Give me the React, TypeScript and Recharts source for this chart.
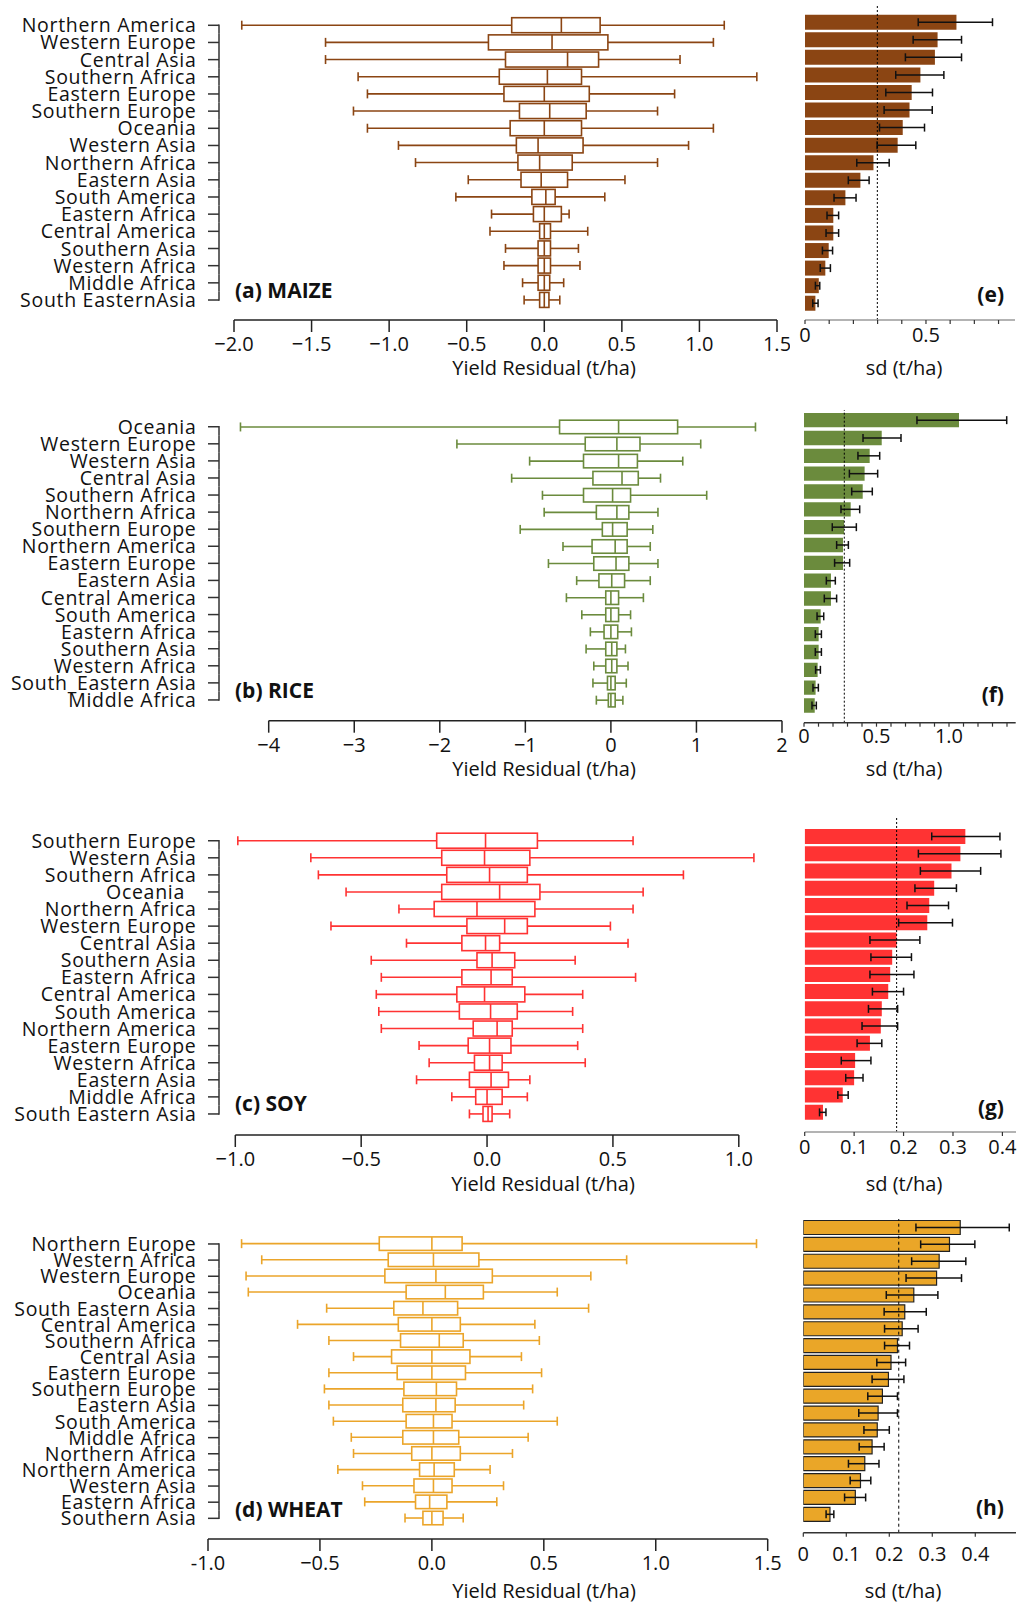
import React from "react";
import { ComposedChart, Bar, XAxis, YAxis, ErrorBar, ReferenceLine } from "recharts";

const FONT = "'Open Sans', 'Noto Sans', 'DejaVu Sans', sans-serif";

// ---------- (a)/(e) maize ----------
const maizeRegions = [
  "Northern America", "Western Europe", "Central Asia", "Southern Africa", "Eastern Europe",
  "Southern Europe", "Oceania", "Western Asia", "Northern Africa", "Eastern Asia",
  "South America", "Eastern Africa", "Central America", "Southern Asia", "Western Africa",
  "Middle Africa", "South EasternAsia"
];
const maizeLow = [-1.95, -1.41, -1.41, -1.2, -1.14, -1.23, -1.14, -0.94, -0.83, -0.49, -0.57, -0.34, -0.35, -0.25, -0.26, -0.14, -0.13];
const maizeQ1 = [-0.21, -0.36, -0.25, -0.29, -0.26, -0.16, -0.22, -0.18, -0.17, -0.15, -0.08, -0.07, -0.03, -0.04, -0.04, -0.04, -0.03];
const maizeMedian = [0.11, 0.05, 0.15, 0.02, 0.0, 0.035, 0.0, -0.04, -0.03, -0.02, 0.01, 0.0, 0.0, 0.0, 0.0, 0.0, 0.0];
const maizeQ3 = [0.36, 0.41, 0.35, 0.24, 0.29, 0.27, 0.24, 0.25, 0.18, 0.15, 0.07, 0.11, 0.04, 0.04, 0.04, 0.035, 0.03];
const maizeHigh = [1.16, 1.09, 0.875, 1.37, 0.84, 0.73, 1.09, 0.93, 0.73, 0.52, 0.39, 0.16, 0.28, 0.22, 0.23, 0.125, 0.1];
const maizeSd = [0.626, 0.548, 0.537, 0.477, 0.441, 0.432, 0.404, 0.383, 0.283, 0.229, 0.167, 0.117, 0.117, 0.098, 0.084, 0.057, 0.043];
const maizeSdLow = [0.468, 0.447, 0.415, 0.375, 0.334, 0.327, 0.308, 0.298, 0.214, 0.179, 0.12, 0.091, 0.087, 0.072, 0.063, 0.043, 0.032];
const maizeSdHigh = [0.775, 0.647, 0.647, 0.574, 0.527, 0.526, 0.494, 0.458, 0.348, 0.265, 0.211, 0.139, 0.139, 0.114, 0.105, 0.061, 0.054];
const maizeSdMean = 0.299;
const maizeTicks = [-2, -1.5, -1, -0.5, 0, 0.5, 1, 1.5];
const maizeTickLabels = ["\u22122.0", "\u22121.5", "\u22121.0", "\u22120.5", "0.0", "0.5", "1.0", "1.5"];
const maizeSdTicks = [0, 0.1, 0.2, 0.3, 0.4, 0.5, 0.6, 0.7, 0.8];
const maizeSdTickLabels = ["0", "", "", "", "", "0.5", "", "", ""];

// ---------- (b)/(f) rice ----------
const riceRegions = [
  "Oceania", "Western Europe", "Western Asia", "Central Asia", "Southern Africa",
  "Northern Africa", "Southern Europe", "Northern America", "Eastern Europe", "Eastern Asia",
  "Central America", "South America", "Eastern Africa", "Southern Asia", "Western Africa",
  "South_Eastern Asia", "Middle Africa"
];
const riceLow = [-4.33, -1.8, -0.95, -1.16, -0.8, -0.78, -1.06, -0.56, -0.73, -0.4, -0.52, -0.34, -0.24, -0.29, -0.2, -0.21, -0.17];
const riceQ1 = [-0.6, -0.3, -0.32, -0.21, -0.32, -0.17, -0.1, -0.22, -0.2, -0.14, -0.06, -0.06, -0.08, -0.06, -0.06, -0.04, -0.03];
const riceMedian = [0.09, 0.07, 0.09, 0.13, 0.02, 0.07, 0.02, 0.05, 0.06, 0.01, 0.0, 0.0, 0.0, 0.01, 0.01, 0.0, 0.0];
const riceQ3 = [0.78, 0.34, 0.31, 0.32, 0.23, 0.21, 0.19, 0.19, 0.21, 0.16, 0.09, 0.09, 0.08, 0.07, 0.07, 0.05, 0.05];
const riceHigh = [1.69, 1.05, 0.84, 0.58, 1.12, 0.55, 0.49, 0.46, 0.55, 0.46, 0.38, 0.23, 0.24, 0.17, 0.2, 0.18, 0.14];
const riceSd = [1.069, 0.536, 0.453, 0.418, 0.405, 0.322, 0.276, 0.269, 0.269, 0.186, 0.186, 0.115, 0.101, 0.101, 0.094, 0.08, 0.074];
const riceSdLow = [0.779, 0.407, 0.372, 0.313, 0.329, 0.255, 0.195, 0.225, 0.211, 0.154, 0.14, 0.09, 0.078, 0.078, 0.08, 0.062, 0.055];
const riceSdHigh = [1.398, 0.669, 0.522, 0.508, 0.471, 0.384, 0.361, 0.306, 0.315, 0.216, 0.225, 0.136, 0.12, 0.12, 0.113, 0.099, 0.085];
const riceSdMean = 0.278;
const riceTicks = [-4, -3, -2, -1, 0, 1, 2];
const riceTickLabels = ["\u22124", "\u22123", "\u22122", "\u22121", "0", "1", "2"];
const riceSdTicks = [0, 0.1, 0.2, 0.3, 0.4, 0.5, 0.6, 0.7, 0.8, 0.9, 1.0, 1.1, 1.2, 1.3, 1.4];
const riceSdTickLabels = ["0", "", "", "", "", "0.5", "", "", "", "", "1.0", "", "", "", ""];

// ---------- (c)/(g) soy ----------
const soyRegions = [
  "Southern Europe", "Western Asia", "Southern Africa", "Oceania\u00a0\u00a0", "Northern Africa",
  "Western Europe", "Central Asia", "Southern Asia", "Eastern Africa", "Central America",
  "South America", "Northern America", "Eastern Europe", "Western Africa", "Eastern Asia",
  "Middle Africa", "South Eastern Asia"
];
const soyLow = [-0.99, -0.7, -0.67, -0.56, -0.35, -0.62, -0.32, -0.46, -0.42, -0.44, -0.43, -0.42, -0.27, -0.23, -0.28, -0.14, -0.07];
const soyQ1 = [-0.2, -0.18, -0.16, -0.18, -0.21, -0.08, -0.1, -0.04, -0.1, -0.12, -0.11, -0.055, -0.075, -0.05, -0.07, -0.045, -0.016];
const soyMedian = [-0.006, -0.01, 0.01, 0.05, -0.04, 0.07, -0.006, 0.02, 0.016, -0.01, 0.014, 0.04, 0.01, 0.01, 0.016, 0.0, 0.004];
const soyQ3 = [0.2, 0.17, 0.16, 0.21, 0.19, 0.16, 0.05, 0.11, 0.1, 0.15, 0.12, 0.1, 0.095, 0.06, 0.085, 0.06, 0.02];
const soyHigh = [0.58, 1.06, 0.78, 0.62, 0.58, 0.49, 0.56, 0.35, 0.59, 0.38, 0.34, 0.38, 0.36, 0.39, 0.17, 0.16, 0.09];
const soySd = [0.325, 0.315, 0.297, 0.262, 0.252, 0.248, 0.186, 0.177, 0.173, 0.169, 0.156, 0.154, 0.132, 0.102, 0.1, 0.077, 0.037];
const soySdLow = [0.257, 0.23, 0.234, 0.223, 0.207, 0.19, 0.132, 0.134, 0.132, 0.137, 0.129, 0.116, 0.106, 0.074, 0.083, 0.067, 0.03];
const soySdHigh = [0.395, 0.397, 0.356, 0.307, 0.291, 0.299, 0.233, 0.216, 0.221, 0.2, 0.188, 0.188, 0.156, 0.134, 0.118, 0.088, 0.043];
const soySdMean = 0.186;
const soyTicks = [-1, -0.5, 0, 0.5, 1];
const soyTickLabels = ["\u22121.0", "\u22120.5", "0.0", "0.5", "1.0"];
const soySdTicks = [0, 0.1, 0.2, 0.3, 0.4];
const soySdTickLabels = ["0", "0.1", "0.2", "0.3", "0.4"];

// ---------- (d)/(h) wheat ----------
const wheatRegions = [
  "Northern Europe", "Western Africa", "Western Europe", "Oceania", "South Eastern Asia",
  "Central America", "Southern Africa", "Central Asia", "Eastern Europe", "Southern Europe",
  "Eastern Asia", "South America", "Middle Africa", "Northern Africa", "Northern America",
  "Western Asia", "Eastern Africa", "Southern Asia"
];
const wheatLow = [-0.85, -0.76, -0.83, -0.82, -0.47, -0.6, -0.46, -0.35, -0.46, -0.48, -0.46, -0.44, -0.36, -0.35, -0.42, -0.31, -0.3, -0.12];
const wheatQ1 = [-0.235, -0.195, -0.21, -0.115, -0.17, -0.15, -0.14, -0.18, -0.155, -0.125, -0.13, -0.115, -0.13, -0.09, -0.055, -0.08, -0.073, -0.04];
const wheatMedian = [0.0, 0.007, 0.018, 0.06, -0.04, 0.0, 0.033, 0.0, 0.0, 0.02, 0.018, 0.007, 0.007, 0.0, 0.01, 0.007, -0.01, 0.0];
const wheatQ3 = [0.135, 0.21, 0.27, 0.23, 0.115, 0.127, 0.14, 0.17, 0.15, 0.11, 0.104, 0.09, 0.12, 0.127, 0.1, 0.09, 0.067, 0.05];
const wheatHigh = [1.45, 0.87, 0.71, 0.56, 0.7, 0.46, 0.48, 0.4, 0.49, 0.45, 0.41, 0.56, 0.43, 0.36, 0.26, 0.32, 0.29, 0.14];
const wheatSd = [0.365, 0.34, 0.316, 0.31, 0.257, 0.236, 0.23, 0.219, 0.204, 0.198, 0.184, 0.174, 0.172, 0.16, 0.143, 0.133, 0.121, 0.062];
const wheatSdLow = [0.262, 0.273, 0.252, 0.239, 0.193, 0.188, 0.189, 0.189, 0.171, 0.16, 0.15, 0.129, 0.141, 0.13, 0.105, 0.109, 0.096, 0.053];
const wheatSdHigh = [0.479, 0.399, 0.378, 0.368, 0.313, 0.286, 0.267, 0.247, 0.238, 0.234, 0.219, 0.219, 0.2, 0.188, 0.176, 0.157, 0.145, 0.071];
const wheatSdMean = 0.222;
const wheatTicks = [-1, -0.5, 0, 0.5, 1, 1.5];
const wheatTickLabels = ["-1.0", "\u22120.5", "0.0", "0.5", "1.0", "1.5"];
const wheatSdTicks = [0, 0.1, 0.2, 0.3, 0.4];
const wheatSdTickLabels = ["0", "0.1", "0.2", "0.3", "0.4"];

const boxRows = (regions, low, q1, median, q3, high) =>
  regions.map((region, i) => ({ region, low: low[i], q1: q1[i], median: median[i], q3: q3[i], high: high[i] }));

const sdRows = (regions, sd, lo, hi) =>
  regions.map((region, i) => ({ region, sd: sd[i], sdLow: lo[i], sdHigh: hi[i] }));

// the floating bar is the box [q1, q3]; whiskers and median use the same linear scale
const BoxShape = (props: any) => {
  const { x, y, width, height, payload, color } = props;
  if (!payload) return null;
  const { low, q1, median, q3, high } = payload;
  const px = (v: number) => x + ((v - q1) / (q3 - q1)) * width;
  const cy = y + height / 2;
  const cap = 4.5;
  return (
    <g stroke={color} strokeWidth={1.6} fill="none">
      <line x1={px(low)} x2={px(q1)} y1={cy} y2={cy} />
      <line x1={px(q3)} x2={px(high)} y1={cy} y2={cy} />
      <line x1={px(low)} x2={px(low)} y1={cy - cap} y2={cy + cap} />
      <line x1={px(high)} x2={px(high)} y1={cy - cap} y2={cy + cap} />
      <rect x={x} y={y} width={width} height={height} fill="#fff" />
      <line x1={px(median)} x2={px(median)} y1={y} y2={y + height} />
    </g>
  );
};

// region label + bracket style axis
const RegionTick = (props: any) => {
  const { y, payload, index, count, step } = props;
  const bx = 219;
  const top = index === 0 ? y - 0.75 : y - step / 2;
  const bottom = index === count - 1 ? y + 0.75 : y + step / 2;
  return (
    <g>
      <text
        x={196.5}
        y={y}
        dy="0.36em"
        textAnchor="end"
        fontSize={19.5}
        letterSpacing={0.7}
        fontFamily={FONT}
        fill="#111"
      >
        {payload.value}
      </text>
      <line x1={208} x2={bx} y1={y} y2={y} stroke="#333" strokeWidth={1.5} />
      <line x1={bx} x2={bx} y1={top} y2={bottom} stroke="#333" strokeWidth={1.5} />
    </g>
  );
};

const BoxPanel = ({ rows, color, ticks, tickLabels, domain, layout }: any) => {
  const n = rows.length;
  const step = (layout.bandsBottom - layout.bandsTop) / n;
  const height = layout.axisY - layout.chartTop + 40;
  return (
    <div style={{ position: "absolute", left: 0, top: layout.chartTop }}>
      <ComposedChart
        layout="vertical"
        width={790}
        height={height}
        data={rows}
        margin={{ top: layout.bandsTop - layout.chartTop, right: 790 - layout.plotRight, bottom: 0, left: 0 }}
      >
        <XAxis
          type="number"
          domain={domain}
          ticks={ticks}
          interval={0}
          height={40}
          tickSize={12}
          tickMargin={5}
          tickFormatter={(v) => tickLabels[ticks.indexOf(v)]}
          axisLine={{ stroke: "#222", strokeWidth: 1.5 }}
          tickLine={{ stroke: "#222", strokeWidth: 1.5 }}
          tick={{ fontSize: 20, fontFamily: FONT, fill: "#111" }}
        />
        <YAxis
          type="category"
          dataKey="region"
          width={layout.plotLeft}
          axisLine={false}
          tickLine={false}
          interval={0}
          padding={{ top: 0, bottom: layout.axisY - layout.bandsBottom }}
          tick={(p) => <RegionTick {...p} step={step} count={n} />}
        />
        <Bar
          dataKey={(d) => [d.q1, d.q3]}
          barSize={layout.boxH}
          isAnimationActive={false}
          shape={(p) => <BoxShape {...p} color={color} />}
        />
      </ComposedChart>
    </div>
  );
};

const SdPanel = ({ rows, color, ticks, tickLabels, xMax, mean, layout }: any) => {
  const height = layout.frameBottom - layout.chartTop + 40;
  return (
    <div style={{ position: "absolute", left: 790, top: layout.chartTop }}>
      <ComposedChart
        layout="vertical"
        width={227}
        height={height}
        data={rows}
        margin={{
          top: layout.frameTop - layout.chartTop,
          right: 1017 - layout.frameRight,
          bottom: 0,
          left: layout.frameLeft - 790
        }}
      >
        <XAxis
          type="number"
          domain={[0, xMax]}
          ticks={ticks}
          allowDataOverflow
          interval={0}
          height={40}
          tickSize={4}
          tickMargin={layout.tickMargin}
          tickFormatter={(v) => tickLabels[ticks.indexOf(v)]}
          axisLine={{ stroke: layout.bottomStroke, strokeWidth: 1.5 }}
          tickLine={{ stroke: "#333", strokeWidth: 1.2 }}
          tick={{ fontSize: 20, fontFamily: FONT, fill: "#111" }}
        />
        <XAxis
          xAxisId="frame"
          orientation="top"
          type="number"
          domain={[0, xMax]}
          height={0}
          tick={false}
          tickLine={false}
          axisLine={{ stroke: layout.frame, strokeWidth: 1.5 }}
        />
        <YAxis
          type="category"
          dataKey="region"
          width={0}
          tick={false}
          tickLine={false}
          axisLine={{ stroke: layout.frame, strokeWidth: 1.5 }}
          padding={{ top: layout.bandsTop - layout.frameTop, bottom: layout.frameBottom - layout.bandsBottom }}
        />
        <YAxis
          yAxisId="frame"
          orientation="right"
          type="category"
          dataKey="region"
          width={0}
          tick={false}
          tickLine={false}
          axisLine={{ stroke: layout.frame, strokeWidth: 1.5 }}
        />
        <Bar
          dataKey="sd"
          fill={color}
          barSize={layout.barH}
          stroke={layout.outline}
          strokeWidth={layout.outline === "none" ? 0 : 1.2}
          isAnimationActive={false}
        >
          <ErrorBar
            dataKey={(d) => [d.sd - d.sdLow, d.sdHigh - d.sd]}
            direction="x"
            width={4}
            stroke="#111"
            strokeWidth={1.5}
          />
        </Bar>
        <ReferenceLine x={mean} stroke="#000" strokeWidth={1} strokeDasharray={layout.dash} />
      </ComposedChart>
    </div>
  );
};

const tags = [
  { text: "(a) MAIZE", x: 235, y: 297.5, anchor: "start" },
  { text: "(b) RICE", x: 235, y: 698, anchor: "start" },
  { text: "(c) SOY", x: 235, y: 1111, anchor: "start" },
  { text: "(d) WHEAT", x: 235, y: 1517, anchor: "start" },
  { text: "(e)", x: 1004, y: 302, anchor: "end" },
  { text: "(f)", x: 1004, y: 702, anchor: "end" },
  { text: "(g)", x: 1004, y: 1115, anchor: "end" },
  { text: "(h)", x: 1004, y: 1515, anchor: "end" }
];

const titles = [
  { text: "Yield Residual (t/ha)", x: 544, y: 375 },
  { text: "Yield Residual (t/ha)", x: 544, y: 776 },
  { text: "Yield Residual (t/ha)", x: 543, y: 1191 },
  { text: "Yield Residual (t/ha)", x: 544, y: 1598 },
  { text: "sd (t/ha)", x: 904, y: 375 },
  { text: "sd (t/ha)", x: 904, y: 776 },
  { text: "sd (t/ha)", x: 904, y: 1191 },
  { text: "sd (t/ha)", x: 903, y: 1598 }
];

export default function App() {
  return (
    <div style={{ position: "absolute", left: 0, top: 0, width: 1017, height: 1606, background: "#fff" }}>
      <BoxPanel
        rows={boxRows(maizeRegions, maizeLow, maizeQ1, maizeMedian, maizeQ3, maizeHigh)}
        color="#8B4513"
        ticks={maizeTicks}
        tickLabels={maizeTickLabels}
        domain={[-2, 1.5]}
        layout={{ chartTop: 0, bandsTop: 16.7, bandsBottom: 308.6, axisY: 320, plotLeft: 234, plotRight: 777, boxH: 15 }}
      />
      <BoxPanel
        rows={boxRows(riceRegions, riceLow, riceQ1, riceMedian, riceQ3, riceHigh)}
        color="#6B8B3D"
        ticks={riceTicks}
        tickLabels={riceTickLabels}
        domain={[-4, 2]}
        layout={{ chartTop: 390, bandsTop: 418.2, bandsBottom: 708.5, axisY: 720.7, plotLeft: 268.7, plotRight: 782, boxH: 13.5 }}
      />
      <BoxPanel
        rows={boxRows(soyRegions, soyLow, soyQ1, soyMedian, soyQ3, soyHigh)}
        color="#FF3333"
        ticks={soyTicks}
        tickLabels={soyTickLabels}
        domain={[-1, 1]}
        layout={{ chartTop: 800, bandsTop: 832.2, bandsBottom: 1122.5, axisY: 1135, plotLeft: 235.3, plotRight: 738.8, boxH: 15 }}
      />
      <BoxPanel
        rows={boxRows(wheatRegions, wheatLow, wheatQ1, wheatMedian, wheatQ3, wheatHigh)}
        color="#EBA52A"
        ticks={wheatTicks}
        tickLabels={wheatTickLabels}
        domain={[-1, 1.5]}
        layout={{ chartTop: 1200, bandsTop: 1235.9, bandsBottom: 1526.4, axisY: 1539, plotLeft: 208, plotRight: 767.7, boxH: 13.5 }}
      />

      <SdPanel
        rows={sdRows(maizeRegions, maizeSd, maizeSdLow, maizeSdHigh)}
        color="#8B4513"
        ticks={maizeSdTicks}
        tickLabels={maizeSdTickLabels}
        xMax={0.868}
        mean={maizeSdMean}
        layout={{ chartTop: 0, frameTop: 6, frameBottom: 320, bandsTop: 13.7, bandsBottom: 312.3, frameLeft: 805, frameRight: 1015, barH: 15, tickMargin: 4, frame: "#9a9a9a", bottomStroke: "#9a9a9a", outline: "none", dash: "2 2" }}
      />
      <SdPanel
        rows={sdRows(riceRegions, riceSd, riceSdLow, riceSdHigh)}
        color="#6B8B3D"
        ticks={riceSdTicks}
        tickLabels={riceSdTickLabels}
        xMax={1.46}
        mean={riceSdMean}
        layout={{ chartTop: 390, frameTop: 410, frameBottom: 722.7, bandsTop: 411, bandsBottom: 714.2, frameLeft: 804, frameRight: 1015.7, barH: 14.3, tickMargin: 2, frame: "#9a9a9a", bottomStroke: "#333", outline: "none", dash: "2 2" }}
      />
      <SdPanel
        rows={sdRows(soyRegions, soySd, soySdLow, soySdHigh)}
        color="#FF3333"
        ticks={soySdTicks}
        tickLabels={soySdTickLabels}
        xMax={0.4275}
        mean={soySdMean}
        layout={{ chartTop: 800, frameTop: 818, frameBottom: 1132, bandsTop: 827.9, bandsBottom: 1121.1, frameLeft: 804.7, frameRight: 1016, barH: 15, tickMargin: 4, frame: "#9a9a9a", bottomStroke: "#9a9a9a", outline: "none", dash: "2 2" }}
      />
      <SdPanel
        rows={sdRows(wheatRegions, wheatSd, wheatSdLow, wheatSdHigh)}
        color="#EAA628"
        ticks={wheatSdTicks}
        tickLabels={wheatSdTickLabels}
        xMax={0.4947}
        mean={wheatSdMean}
        layout={{ chartTop: 1200, frameTop: 1219, frameBottom: 1532.7, bandsTop: 1219.5, bandsBottom: 1523.2, frameLeft: 803.3, frameRight: 1016, barH: 14, tickMargin: 10, frame: "#333", bottomStroke: "#333", outline: "#222", dash: "3 3" }}
      />

      <svg
        width={1017}
        height={1606}
        style={{ position: "absolute", left: 0, top: 0, pointerEvents: "none" }}
      >
        {tags.map((t) => (
          <text key={t.text} x={t.x} y={t.y} textAnchor={t.anchor} fontSize={21} fontWeight={700} fontFamily={FONT} fill="#111">
            {t.text}
          </text>
        ))}
        {titles.map((t, i) => (
          <text key={i} x={t.x} y={t.y} textAnchor="middle" fontSize={20} fontFamily={FONT} fill="#111">
            {t.text}
          </text>
        ))}
      </svg>
    </div>
  );
}
